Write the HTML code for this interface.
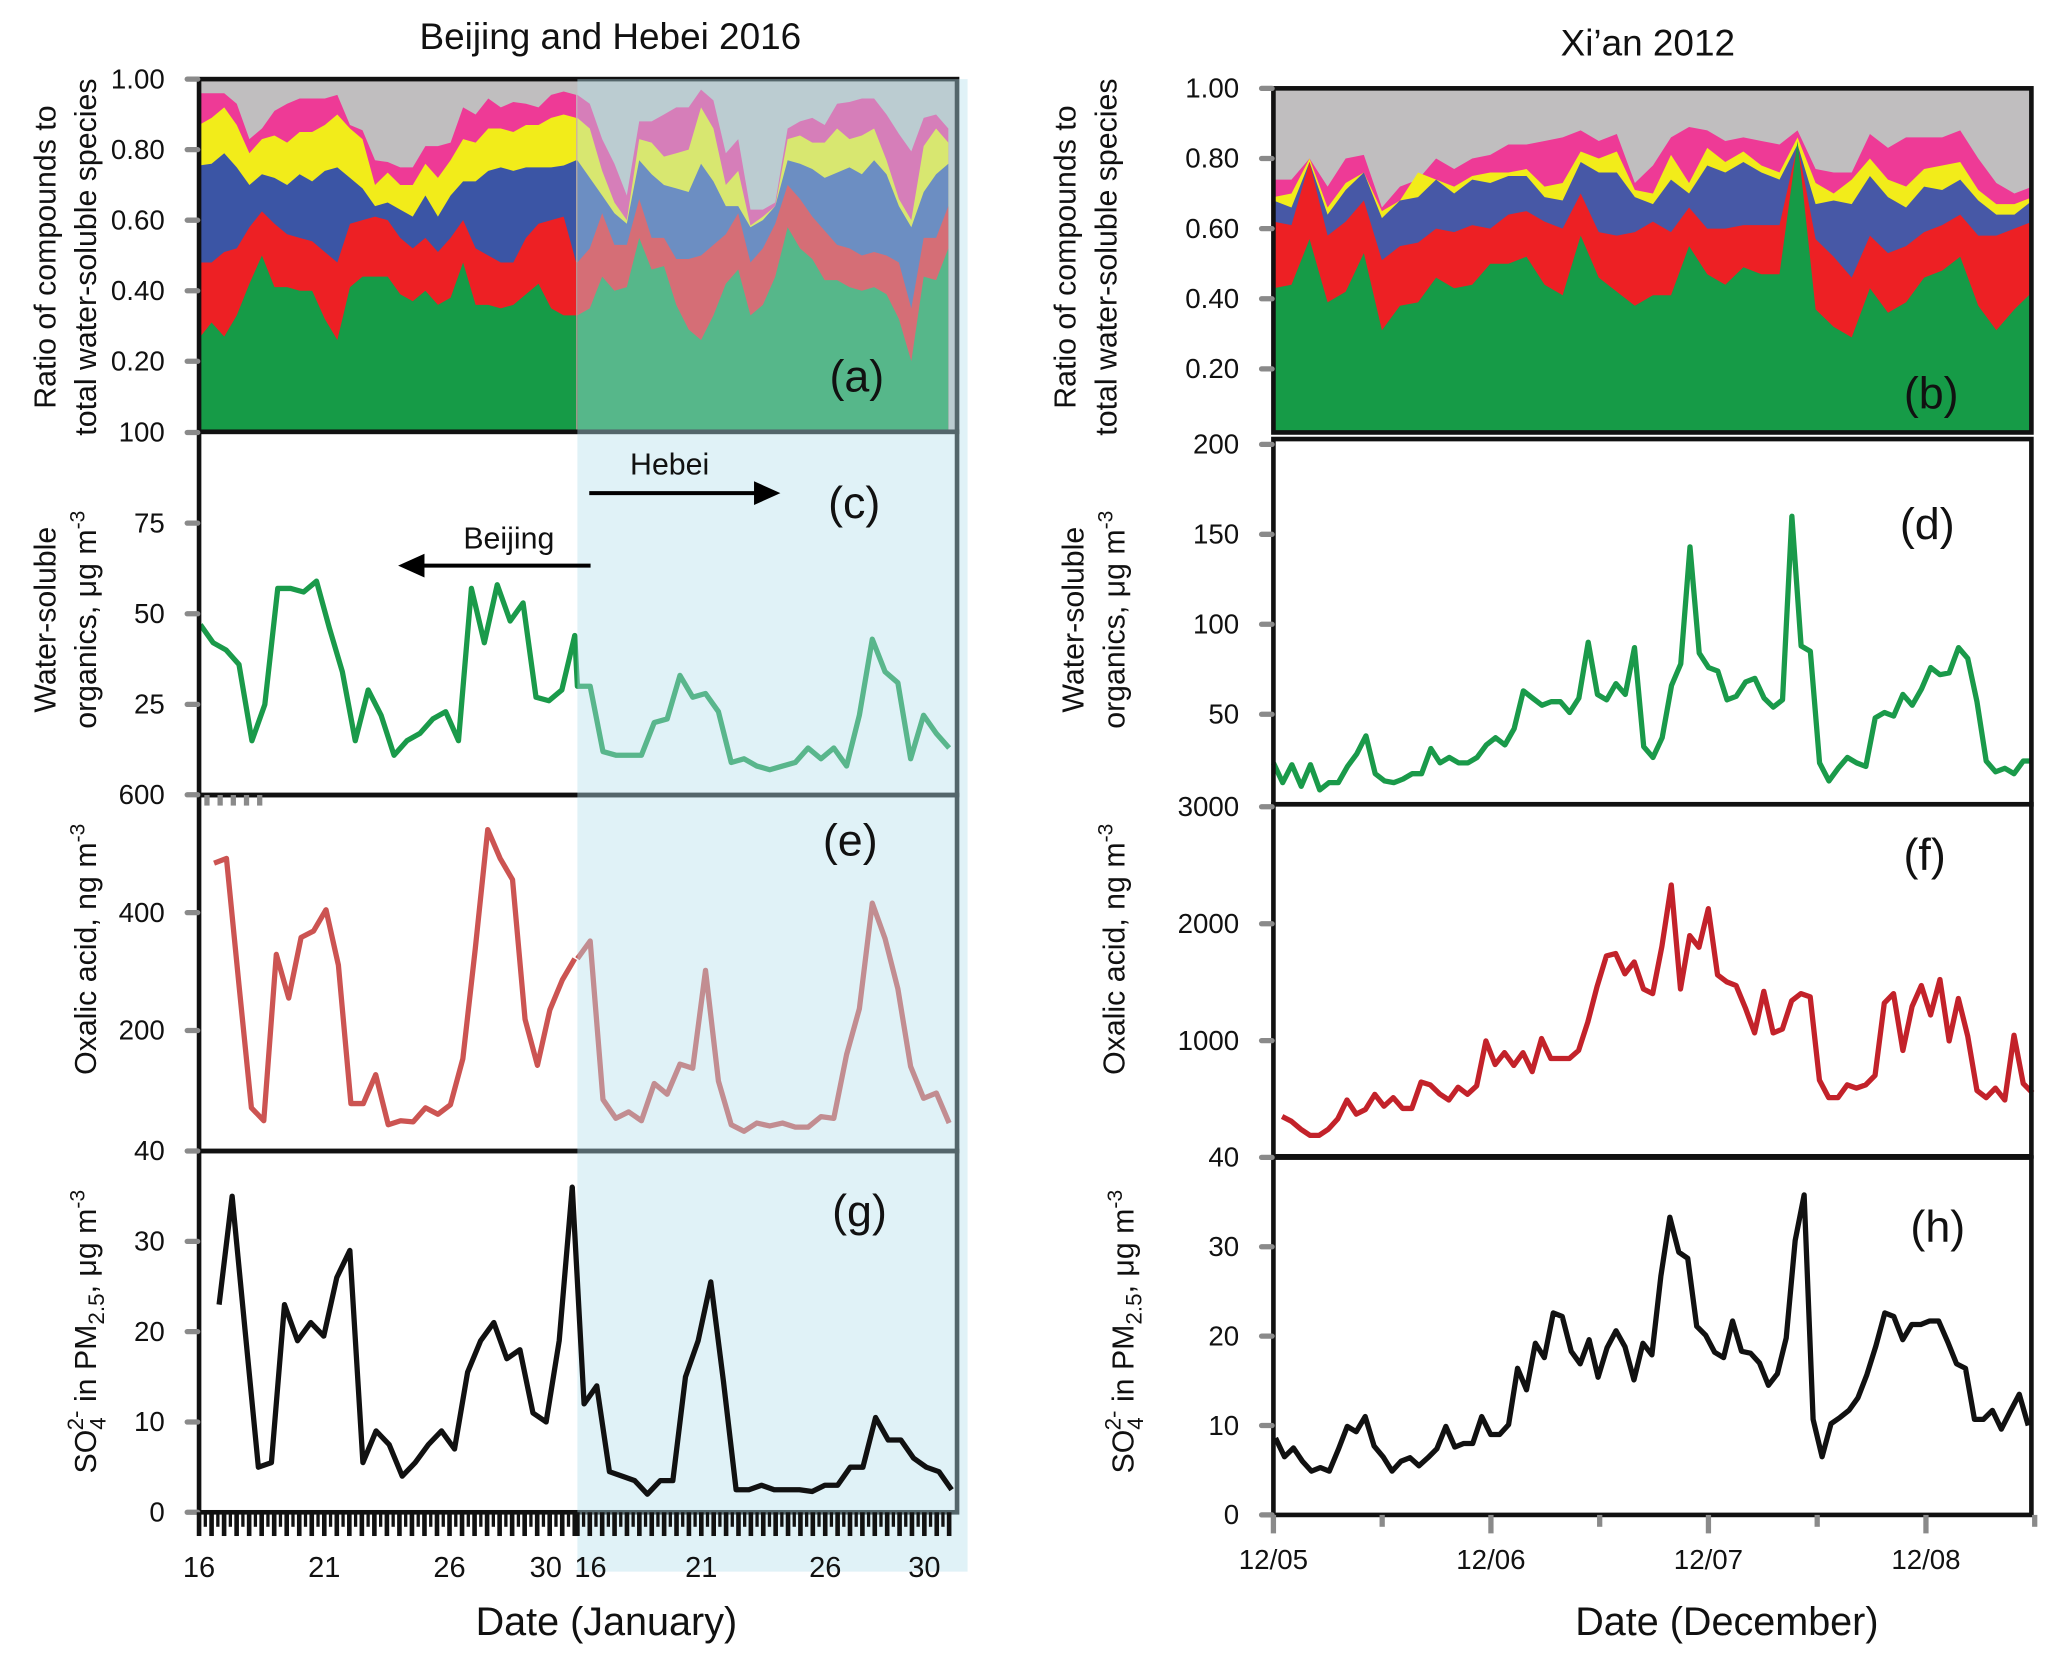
<!DOCTYPE html>
<html><head><meta charset="utf-8"><style>
html,body{margin:0;padding:0;background:#fff;}
svg{display:block;font-family:"Liberation Sans",sans-serif;}
</style></head><body>
<svg id="fig" xmlns="http://www.w3.org/2000/svg" width="2067" height="1656" viewBox="0 0 1568 1256" preserveAspectRatio="none"></svg>
<script>
// ---------- data: Beijing / Hebei panel (a) cumulative ratios ----------
const bjGreen=[.265,.31,.27,.33,.42,.50,.41,.41,.40,.40,.32,.26,.41,.44,.44,.44,.39,.37,.40,.36,.38,.48,.36,.36,.35,.36,.39,.42,.35,.33,.33];
const bjRed=[.48,.48,.51,.52,.58,.625,.59,.56,.55,.54,.51,.48,.59,.60,.61,.60,.55,.52,.55,.51,.55,.60,.52,.50,.48,.48,.55,.59,.60,.61,.48];
const bjBlue=[.755,.76,.79,.75,.70,.73,.72,.70,.73,.71,.74,.75,.72,.69,.64,.65,.63,.61,.67,.61,.67,.71,.71,.74,.75,.74,.75,.75,.75,.755,.77];
const bjYellow=[.87,.89,.92,.87,.79,.83,.84,.82,.85,.85,.87,.90,.86,.83,.70,.735,.70,.70,.76,.72,.77,.83,.82,.86,.86,.85,.87,.87,.89,.90,.89];
const bjMag=[.96,.96,.96,.93,.83,.86,.91,.93,.945,.945,.945,.955,.87,.855,.77,.765,.75,.75,.81,.81,.82,.92,.90,.945,.92,.935,.93,.92,.955,.965,.955];
const hbGreen=[.33,.35,.44,.40,.41,.55,.46,.47,.36,.29,.26,.33,.42,.46,.33,.36,.44,.58,.52,.49,.43,.43,.41,.40,.41,.39,.32,.20,.44,.43,.52];
const hbRed=[.48,.52,.62,.53,.53,.66,.55,.55,.49,.49,.50,.53,.56,.62,.48,.52,.59,.70,.66,.61,.57,.53,.52,.50,.51,.50,.48,.35,.55,.55,.64];
const hbBlue=[.77,.72,.67,.62,.59,.77,.73,.70,.69,.68,.76,.71,.64,.64,.58,.60,.64,.77,.76,.745,.72,.735,.75,.73,.77,.73,.64,.58,.68,.73,.76];
const hbYellow=[.89,.86,.74,.65,.60,.83,.82,.78,.79,.80,.92,.86,.70,.74,.585,.61,.64,.83,.84,.82,.82,.86,.83,.84,.86,.77,.66,.60,.81,.86,.82];
const hbMag=[.955,.93,.83,.76,.67,.88,.88,.90,.92,.92,.97,.94,.79,.83,.63,.63,.65,.86,.88,.89,.87,.93,.935,.945,.945,.90,.845,.795,.89,.90,.86];
// ---------- data: Beijing / Hebei line series ----------
const bjWso=[47,42,40,36,15,25,57,57,56,59,46,34,15,29,22,11,15,17,21,23,15,57,42,58,48,53,27,26,29,44];
const hbWso=[30,30,12,11,11,11,20,21,33,27,28,23,9,10,8,7,8,9,13,10,13,8,22,43,34,31,10,22,17,13];
const bjOxa=[484,492,277,69,47,329,255,358,369,405,311,76,76,125,40,47,45,69,58,74,152,338,541,492,456,219,141,235,286,322];
const hbOxa=[322,352,83,51,62,47,110,92,143,136,302,114,40,29,43,38,43,36,36,54,51,159,237,416,356,271,139,85,94,43];
const bjSo4=[23,35,20,5,5.5,23,19,21,19.5,26,29,5.5,9,7.5,4,5.5,7.5,9,7,15.5,19,21,17,18,11,10,19,36];
const hbSo4=[12,14,4.5,4,3.5,2,3.5,3.5,15,19,25.5,14.5,2.5,2.5,3,2.5,2.5,2.5,2.3,3,3,5,5,10.5,8,8,6,5,4.5,2.5];
// ---------- data: Xi'an ----------
const xaGreen=[.43,.44,.57,.39,.42,.53,.31,.38,.39,.46,.43,.44,.50,.50,.52,.44,.41,.58,.46,.42,.38,.41,.41,.55,.47,.44,.49,.47,.47,.85,.37,.32,.29,.43,.36,.39,.46,.48,.52,.38,.31,.37,.42];
const xaRed=[.62,.61,.79,.58,.62,.68,.51,.55,.56,.60,.59,.61,.60,.64,.65,.62,.60,.70,.59,.58,.59,.62,.59,.66,.60,.60,.61,.61,.61,.84,.57,.52,.46,.58,.53,.55,.59,.61,.64,.58,.58,.60,.62];
const xaBlue=[.68,.66,.79,.64,.71,.76,.63,.68,.69,.74,.70,.74,.73,.75,.75,.69,.68,.79,.76,.76,.69,.67,.74,.70,.78,.76,.79,.76,.74,.84,.67,.68,.67,.75,.69,.66,.72,.71,.74,.68,.64,.64,.68];
const xaYellow=[.69,.70,.80,.66,.73,.76,.65,.68,.76,.74,.72,.75,.76,.76,.77,.72,.73,.82,.80,.82,.71,.70,.81,.73,.83,.79,.82,.78,.76,.86,.73,.70,.74,.80,.74,.72,.77,.78,.79,.71,.67,.67,.69];
const xaMag=[.74,.74,.80,.72,.80,.81,.66,.72,.74,.80,.77,.80,.81,.84,.84,.85,.86,.88,.85,.87,.73,.78,.86,.89,.88,.85,.86,.85,.84,.88,.77,.76,.76,.87,.83,.86,.86,.86,.88,.80,.73,.70,.72];
const xaWso=[23,12,22,10,22,8,12,12,21,28,38,17,13,12,14,17,17,31,23,26,23,23,26,33,37,33,42,63,59,55,57,57,51,59,90,61,58,67,61,87,32,26,37,66,78,143,84,76,74,58,60,68,70,59,54,58,160,88,85,23,13,20,26,23,21,48,51,49,61,55,64,76,72,73,87,81,57,24,18,20,17,24,24];
const xaOxa=[352,311,243,190,190,243,331,493,372,412,541,440,513,420,420,646,622,545,493,602,541,614,998,796,897,788,897,735,1018,848,848,848,917,1159,1462,1725,1745,1572,1673,1442,1402,1806,2331,1442,1899,1798,2129,1563,1503,1471,1281,1067,1422,1067,1099,1341,1402,1374,663,513,513,622,594,622,703,1321,1402,917,1293,1471,1220,1523,998,1361,1038,574,513,594,493,1046,634,553];
const xaSo4=[8.6,6.5,7.5,6.0,4.9,5.3,4.9,7.3,9.9,9.3,11.0,7.7,6.5,4.9,6.0,6.4,5.5,6.4,7.4,9.9,7.6,8.0,8.0,11.0,9.0,9.0,10.1,16.4,14.0,19.2,17.6,22.6,22.2,18.3,16.9,19.6,15.4,18.7,20.6,18.8,15.1,19.2,17.9,26.7,33.3,29.4,28.7,21.1,20.1,18.2,17.6,21.7,18.3,18.1,17.0,14.5,15.8,19.8,30.7,35.8,10.7,6.5,10.2,10.9,11.7,13.1,15.7,18.9,22.6,22.2,19.6,21.3,21.3,21.7,21.7,19.4,16.9,16.4,10.7,10.7,11.7,9.6,11.6,13.5,10.0];
// ---------- tick labels ----------
const ratioTicks=[1.0,0.8,0.6,0.4,0.2];
const ratioTickLabels=["1.00","0.80","0.60","0.40","0.20"];
const wsoTicksL=[100,75,50,25];
const oxaTicksL=[600,400,200];
const so4Ticks=[40,30,20,10,0];
const wsoTicksR=[200,150,100,50];
const oxaTicksR=[3000,2000,1000];
const janTicks=[16,21,26,30];
const decTicks=[0,1,2,3];
const decTickLabels=["12/05","12/06","12/07","12/08"];

const NS='http://www.w3.org/2000/svg';
const svg=document.getElementById('fig');
function mk(tag,attrs,parent){const e=document.createElementNS(NS,tag);for(const k in attrs)e.setAttribute(k,attrs[k]);(parent||svg).appendChild(e);return e;}

// axis functions
const xB=d=>151+(d-16)*19.0;
const xH=d=>438+(d-16)*18.8;
const xX=d=>966+d*165;
const yA=v=>327.5-v*267.5;
const yC=v=>603-v*2.75;
const yE=v=>871-v*0.447;
const yG=v=>1147-v*6.85;
const yBr=v=>333-v*266;
const yD=v=>610-v*1.365;
const yF=v=>878-v*0.0887;
const yHr=v=>1149-v*6.78;
function tAt(t0,t1,n,i){return t0+i*(t1-t0)/(n-1);}

function linePts(vals,t0,t1,xf,yf){return vals.map((v,i)=>xf(tAt(t0,t1,vals.length,i)).toFixed(1)+','+yf(v).toFixed(1)).join(' ');}
function areaPts(vals,t0,t1,xf,yf,base){let p=xf(t0).toFixed(1)+','+base+' ';p+=linePts(vals,t0,t1,xf,yf);p+=' '+xf(t1).toFixed(1)+','+base;return p;}

// ---------- panel (a) stacked ----------
mk('rect',{x:151,y:60,width:575,height:267.5,fill:'#c0bebf'});
const aColors=['#ee3a96','#f2ec1a','#3b55a5','#ed2024','#169b47'];
const aNames=['magenta','yellow','blue','red','green'];
[bjMag,bjYellow,bjBlue,bjRed,bjGreen].forEach((arr,k)=>{
  const p=mk('polygon',{points:areaPts(arr,16,31.06,xB,yA,327.5),fill:aColors[k]});
  
  
});
[hbMag,hbYellow,hbBlue,hbRed,hbGreen].forEach((arr,k)=>{
  const p=mk('polygon',{points:areaPts(arr,16,30.97,xH,yA,327.5),fill:aColors[k]});
  
  
});
// ---------- panel (b) stacked ----------
mk('rect',{x:966,y:67,width:575,height:261,fill:'#c0bebf'});
const bColors=['#ee3a96','#f2ec1a','#4758a6','#ed2024','#169b47'];
[xaMag,xaYellow,xaBlue,xaRed,xaGreen].forEach((arr,k)=>{
  const p=mk('polygon',{points:areaPts(arr,0,3.49,xX,v=>Math.max(67,yBr(v)),328),fill:bColors[k]});
  
  
});

// ---------- line series under overlay ----------
function addLine(vals,t0,t1,xf,yf,color,name){
  const l=mk('polyline',{points:linePts(vals,t0,t1,xf,yf),fill:'none',stroke:color,'stroke-width':4,'stroke-linejoin':'round'});
  
  
}
function bridge(v1,t1,v2,t2,yf,color,name){
  const l=mk('line',{x1:xB(t1),y1:yf(v1),x2:xH(t2),y2:yf(v2),stroke:color,'stroke-width':4,'stroke-linecap':'round'});
  
  
}
addLine(bjWso,16.05,31.0,xB,yC,'#1a9a4a','beijing-wso-line');
addLine(hbWso,16.0,31.0,xH,yC,'#1a9a4a','hebei-wso-line');
bridge(bjWso[bjWso.length-1],31.0,hbWso[0],16.0,yC,'#1a9a4a','wso-site-join');
addLine(bjOxa,16.6,31.0,xB,yE,'#cc5452','beijing-oxalic-line');
addLine(hbOxa,16.0,31.0,xH,yE,'#cc5452','hebei-oxalic-line');
addLine(xaWso,0,3.49,xX,yD,'#1a9a4a','xian-wso-line');
addLine(xaOxa,0.04,3.49,xX,yF,'#c3222a','xian-oxalic-line');
addLine(xaSo4,0.01,3.47,xX,yHr,'#111','xian-so4-line');

// ---------- frames ----------
[[60,267.5,'frame-a'],[327.5,275.5,'frame-c'],[603,270,'frame-e'],[873,274,'frame-g']].forEach(f=>{
  const r=mk('rect',{x:151,y:f[0],width:575,height:f[1],fill:'none',stroke:'#111','stroke-width':3.5});
  
});
[[67,261,'frame-b'],[333,277,'frame-d'],[610,267,'frame-f'],[878,271,'frame-h']].forEach(f=>{
  const r=mk('rect',{x:966,y:f[0],width:575,height:f[1],fill:'none',stroke:'#111','stroke-width':3.5});
  
});

// ---------- Hebei overlay ----------
const ov=mk('rect',{x:438,y:60,width:296,height:1132,fill:'rgb(179,223,235)','fill-opacity':0.41});



addLine(bjSo4,16.8,30.9,xB,yG,'#111','beijing-so4-line');
addLine(hbSo4,16.27,31.1,xH,yG,'#111','hebei-so4-line');
bridge(bjSo4[bjSo4.length-1],30.9,hbSo4[0],16.27,yG,'#111','so4-site-join');

// ---------- y ticks ----------
function yTicks(vals,labels,yf,xAxis,name){
  vals.forEach((v,i)=>{
    const y=yf(v);
    const t=mk('line',{x1:xAxis-9,y1:y,x2:xAxis-1,y2:y,stroke:'#8a8a8a','stroke-width':4,'stroke-linecap':'round'});
    
    const tx=mk('text',{x:xAxis-26,y:y+7,'text-anchor':'end','font-size':21,fill:'#111'});
    tx.textContent=labels[i];
    
    
  });
}
yTicks(ratioTicks,ratioTickLabels,yA,151,'a-y');
yTicks(wsoTicksL,wsoTicksL.map(String),yC,151,'c-y');
yTicks(oxaTicksL,oxaTicksL.map(String),yE,151,'e-y');
yTicks(so4Ticks,so4Ticks.map(String),yG,151,'g-y');
yTicks(ratioTicks,ratioTickLabels,yBr,966,'b-y');
yTicks(wsoTicksR,wsoTicksR.map(String),yD,966,'d-y');
yTicks(oxaTicksR,oxaTicksR.map(String),yF,966,'f-y');
yTicks(so4Ticks,so4Ticks.map(String),yHr,966,'h-y');

// ---------- x ticks left ----------
for(let k=0;k<=60;k++){
  const d=16+k*0.25;
  const lg=(k%2===0);
  const t=mk('line',{x1:xB(d),y1:1147,x2:xB(d),y2:lg?1165:1158,stroke:'#111','stroke-width':lg?3.5:2.5});
  
  const t2=mk('line',{x1:xH(d),y1:1147,x2:xH(d),y2:lg?1165:1158,stroke:'#111','stroke-width':lg?3.5:2.5});
  
}
janTicks.forEach(d=>{
  const a=mk('text',{x:d===30?xB(d)-3:xB(d),y:1196,'text-anchor':'middle','font-size':22,fill:'#111'});
  a.textContent=String(d);
  
  const b=mk('text',{x:d===16?xH(d)+10:xH(d),y:1196,'text-anchor':'middle','font-size':22,fill:'#111'});
  b.textContent=String(d);
  
});
// ---------- x ticks right ----------
for(let k=0;k<=7;k++){
  const d=k*0.5;
  const t=mk('line',{x1:xX(d),y1:1149,x2:xX(d),y2:k%2===0?1163:1158,stroke:'#8a8a8a','stroke-width':4});
  
}
decTicks.forEach((d,i)=>{
  const a=mk('text',{x:xX(d),y:1190,'text-anchor':'middle','font-size':21,fill:'#111'});
  a.textContent=decTickLabels[i];
  
});
// small gray dashes top of (e)
for(let k=0;k<5;k++){
  const t=mk('line',{x1:157+k*10,y1:603,x2:157+k*10,y2:611,stroke:'#8a8a8a','stroke-width':4});
  
}
</script>
<script>
(function(){
const NS='http://www.w3.org/2000/svg';
const svg=document.getElementById('fig');
function txt(x,y,size,str,name,extra){const e=document.createElementNS(NS,'text');e.setAttribute('x',x);e.setAttribute('y',y);e.setAttribute('font-size',size);e.setAttribute('fill','#111');if(extra)for(const k in extra)e.setAttribute(k,extra[k]);e.innerHTML=str;svg.appendChild(e);return e;}
let e;
e=txt(463,37,28,'Beijing and Hebei 2016','left-title',{'text-anchor':'middle'});

e=txt(1250,42,28,'Xi’an 2012','right-title',{'text-anchor':'middle'});

e=txt(460,1240,30,'Date (January)','',{'text-anchor':'middle'});

e=txt(1310,1240,30,'Date (December)','',{'text-anchor':'middle'});

const panels=[['(a)',650,297,'label-a'],['(c)',648,393,'label-c'],['(e)',645,649,'label-e'],['(g)',652,930,'label-g'],['(b)',1465,310,'label-b'],['(d)',1462,409,'label-d'],['(f)',1460,660,'label-f'],['(h)',1470,942,'label-h']];
panels.forEach(p=>{e=txt(p[1],p[2],34,p[0],'',{'text-anchor':'middle'});});
e=txt(508,360,23,'Hebei','',{'text-anchor':'middle'});

e=txt(386,416,23,'Beijing','',{'text-anchor':'middle'});

function arrow(x1,x2,y,name){
  const l=document.createElementNS(NS,'line');
  l.setAttribute('x1',x1);l.setAttribute('y1',y);l.setAttribute('x2',x2>x1?x2-14:x2+14);l.setAttribute('y2',y);
  l.setAttribute('stroke','#000');l.setAttribute('stroke-width',3);
  
  svg.appendChild(l);
  const h=document.createElementNS(NS,'polygon');
  const s=x2>x1?-1:1;
  h.setAttribute('points',x2+','+y+' '+(x2+s*20)+','+(y-9)+' '+(x2+s*20)+','+(y+9));
  h.setAttribute('fill','#000');
  
  svg.appendChild(h);
}
arrow(447,592,374,'hebei-arrow');
arrow(448,302,429,'beijing-arrow');
function ytitle(x,y,html,name){const t=txt(0,0,23,html,name,{'text-anchor':'middle','transform':'translate('+x+','+y+') rotate(-90)'});return t;}
ytitle(42,195,'Ratio of compounds to','a-y-title-line1');
ytitle(73,195,'total water-soluble species','a-y-title-line2');
ytitle(42,470,'Water-soluble','c-y-title-line1');
ytitle(73,470,'organics, μg m<tspan font-size="16" dy="-9">-3</tspan>','c-y-title-line2');
ytitle(73,720,'Oxalic acid,  ng m<tspan font-size="16" dy="-9">-3</tspan>','e-y-title');
ytitle(73,1010,'SO<tspan font-size="17" dy="7">4</tspan><tspan font-size="17" dx="-10" dy="-17">2-</tspan><tspan dy="10"> in PM</tspan><tspan font-size="17" dy="6">2.5</tspan><tspan dy="-6">, μg m</tspan><tspan font-size="16" dy="-9">-3</tspan>','g-y-title');
ytitle(816,195,'Ratio of compounds to','b-y-title-line1');
ytitle(847,195,'total water-soluble species','b-y-title-line2');
ytitle(822,470,'Water-soluble','d-y-title-line1');
ytitle(853,470,'organics, μg m<tspan font-size="16" dy="-9">-3</tspan>','d-y-title-line2');
ytitle(853,720,'Oxalic acid,  ng m<tspan font-size="16" dy="-9">-3</tspan>','f-y-title');
ytitle(860,1010,'SO<tspan font-size="17" dy="7">4</tspan><tspan font-size="17" dx="-10" dy="-17">2-</tspan><tspan dy="10"> in PM</tspan><tspan font-size="17" dy="6">2.5</tspan><tspan dy="-6">, μg m</tspan><tspan font-size="16" dy="-9">-3</tspan>','h-y-title');
})();
</script>
</body></html>
